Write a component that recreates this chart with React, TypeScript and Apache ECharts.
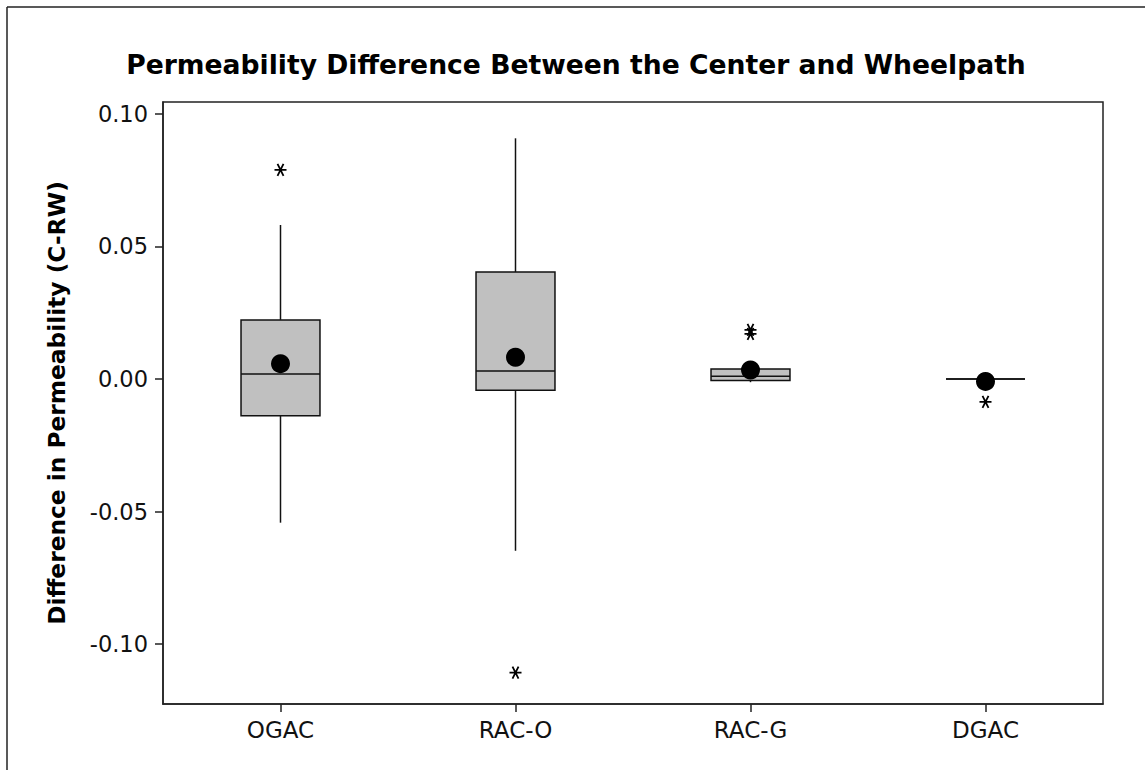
import React, { useEffect, useRef } from "react";
import * as echarts from "echarts";

const categories = ["OGAC", "RAC-O", "RAC-G", "DGAC"];
// [min whisker, Q1, median, Q3, max whisker]
const boxStats = [
  [-0.0542, -0.0139, 0.0019, 0.0223, 0.0581],
  [-0.0648, -0.0042, 0.003, 0.0404, 0.0908],
  [-0.0012, -0.0006, 0.001, 0.0038, 0.0038],
  [0.0, 0.0, 0.0, 0.0, 0.0],
];
const means = [0.0058, 0.0082, 0.0034, -0.0009];
const outliers: [string, number][] = [
  ["OGAC", 0.0789],
  ["RAC-O", -0.1108],
  ["RAC-G", 0.0185],
  ["RAC-G", 0.017],
  ["DGAC", -0.0086],
];
const yTicks = [-0.1, -0.05, 0, 0.05, 0.1];

const FONT = "DejaVu Sans";

export default function App() {
  const ref = useRef<HTMLDivElement>(null);
  useEffect(() => {
    if (!ref.current) return;
    const chart = echarts.init(ref.current, null, { renderer: "svg" });
    const boxData = boxStats.map((s, i) => [i, ...s]);
    chart.setOption({
      animation: false,
      backgroundColor: "#ffffff",
      title: {
        text: "Permeability Difference Between the Center and Wheelpath",
        left: 571,
        textAlign: "center",
        top: 46,
        textStyle: { fontFamily: FONT, fontWeight: "bold", fontSize: 26.6, color: "#000" },
      },
      graphic: [
        { type: "line", shape: { x1: 7, y1: 7, x2: 1145, y2: 7 }, style: { stroke: "#222", lineWidth: 1.5 } },
        { type: "line", shape: { x1: 7, y1: 7, x2: 7, y2: 770 }, style: { stroke: "#222", lineWidth: 1.5 } },
      ],
      grid: {
        left: 163,
        right: 42,
        top: 102,
        bottom: 66,
        show: true,
        borderColor: "#222",
        borderWidth: 1.5,
        backgroundColor: "transparent",
      },
      xAxis: {
        type: "category",
        data: categories,
        boundaryGap: true,
        axisLine: { show: true, onZero: false, lineStyle: { color: "#222", width: 1.5 } },
        axisTick: { show: true, alignWithLabel: true, length: 8, lineStyle: { color: "#222", width: 1.5 } },
        axisLabel: { fontFamily: FONT, fontSize: 23, color: "#111", margin: 14 },
        splitLine: { show: false },
      },
      yAxis: {
        type: "value",
        min: -0.1226,
        max: 0.1045,
        name: "Difference in Permeability (C-RW)",
        nameLocation: "middle",
        nameGap: 95,
        nameRotate: 90,
        nameTextStyle: { fontFamily: FONT, fontWeight: "bold", fontSize: 23.3, color: "#000" },
        axisLine: { show: true, onZero: false, lineStyle: { color: "#222", width: 1.5 } },
        axisTick: { show: true, length: 8, customValues: yTicks, lineStyle: { color: "#222", width: 1.5 } },
        axisLabel: {
          fontFamily: FONT,
          fontSize: 22.5,
          color: "#111",
          margin: 15,
          customValues: yTicks,
          formatter: (v: number) => v.toFixed(2),
        },
        splitLine: { show: false },
      },
      series: [
        {
          type: "custom",
          data: boxData,
          encode: { x: 0, y: [1, 2, 3, 4, 5] },
          z: 2,
          renderItem: (params: any, api: any) => {
            const idx = api.value(0);
            const pt = (v: number) => api.coord([idx, v]);
            const x = pt(api.value(1))[0];
            const yMin = pt(api.value(1))[1];
            const yQ1 = pt(api.value(2))[1];
            const yMed = pt(api.value(3))[1];
            const yQ3 = pt(api.value(4))[1];
            const yMax = pt(api.value(5))[1];
            const w = api.size([1, 0])[0] * 0.336;
            const stroke = { stroke: "#111", lineWidth: 1.5, fill: null };
            return {
              type: "group",
              children: [
                { type: "line", shape: { x1: x, y1: yMin, x2: x, y2: yQ1 }, style: stroke },
                { type: "line", shape: { x1: x, y1: yQ3, x2: x, y2: yMax }, style: stroke },
                {
                  type: "rect",
                  shape: { x: x - w / 2, y: yQ3, width: w, height: yQ1 - yQ3 },
                  style: { fill: "#c0c0c0", stroke: "#111", lineWidth: 1.5 },
                },
                { type: "line", shape: { x1: x - w / 2, y1: yMed, x2: x + w / 2, y2: yMed }, style: stroke },
              ],
            };
          },
        },
        {
          type: "scatter",
          data: categories.map((c, i) => [c, means[i]]),
          symbol: "circle",
          symbolSize: 19,
          itemStyle: { color: "#000", opacity: 1 },
          z: 3,
        },
        {
          type: "scatter",
          data: outliers,
          symbol: "path://M0,5L10,5M2.5,0.67L7.5,9.33M2.5,9.33L7.5,0.67",
          symbolSize: 12,
          itemStyle: { color: "transparent", borderColor: "#000", borderWidth: 1.8, opacity: 1 },
          z: 3,
        },
      ],
    });
    return () => chart.dispose();
  }, []);
  return (
    <div
      ref={ref}
      style={{ position: "absolute", left: 0, top: 0, width: 1145, height: 770 }}
    />
  );
}
